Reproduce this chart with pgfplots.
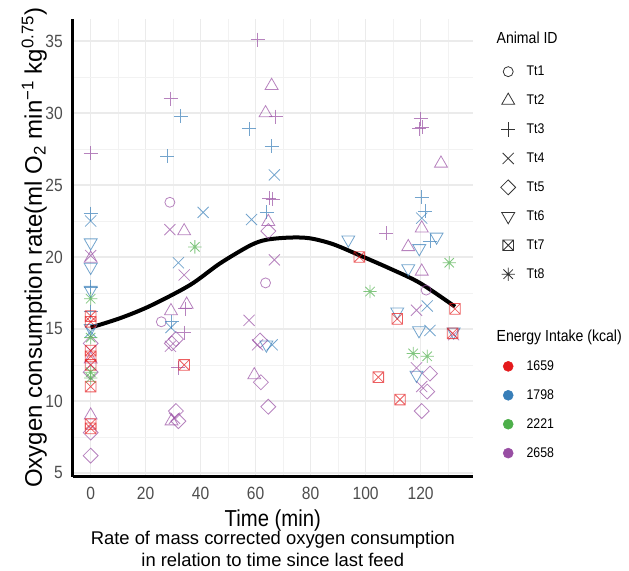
\documentclass[border=0pt]{standalone}
\usepackage{fontspec}
\setmainfont{Liberation Sans}
\newfontfamily\cnd{Liberation Sans}[FakeStretch=0.88]
\usepackage{pgfplots}
\pgfplotsset{compat=1.18}

\definecolor{cR}{HTML}{E41A1C}
\definecolor{cB}{HTML}{377EB8}
\definecolor{cG}{HTML}{4DAF4A}
\definecolor{cP}{HTML}{984EA3}
\definecolor{gridmaj}{HTML}{EBEBEB}
\definecolor{gridmin}{HTML}{F2F2F2}
\definecolor{tickgray}{HTML}{4D4D4D}

% ggplot-like marks: boxed cross, 8-arm asterisk, square diamond, down triangle
\pgfdeclareplotmark{boxx}{%
  \pgfpathrectangle{\pgfqpoint{-\pgfplotmarksize}{-\pgfplotmarksize}}{\pgfqpoint{2\pgfplotmarksize}{2\pgfplotmarksize}}%
  \pgfpathmoveto{\pgfqpoint{-\pgfplotmarksize}{-\pgfplotmarksize}}\pgfpathlineto{\pgfqpoint{\pgfplotmarksize}{\pgfplotmarksize}}%
  \pgfpathmoveto{\pgfqpoint{-\pgfplotmarksize}{\pgfplotmarksize}}\pgfpathlineto{\pgfqpoint{\pgfplotmarksize}{-\pgfplotmarksize}}%
  \pgfusepathqstroke}
\pgfdeclareplotmark{ast8}{%
  \pgfpathmoveto{\pgfqpoint{-\pgfplotmarksize}{0pt}}\pgfpathlineto{\pgfqpoint{\pgfplotmarksize}{0pt}}%
  \pgfpathmoveto{\pgfqpoint{0pt}{-\pgfplotmarksize}}\pgfpathlineto{\pgfqpoint{0pt}{\pgfplotmarksize}}%
  \pgfpathmoveto{\pgfqpoint{-.7071\pgfplotmarksize}{-.7071\pgfplotmarksize}}\pgfpathlineto{\pgfqpoint{.7071\pgfplotmarksize}{.7071\pgfplotmarksize}}%
  \pgfpathmoveto{\pgfqpoint{-.7071\pgfplotmarksize}{.7071\pgfplotmarksize}}\pgfpathlineto{\pgfqpoint{.7071\pgfplotmarksize}{-.7071\pgfplotmarksize}}%
  \pgfusepathqstroke}
\pgfdeclareplotmark{dmd}{%
  \pgfpathmoveto{\pgfqpoint{0pt}{\pgfplotmarksize}}\pgfpathlineto{\pgfqpoint{\pgfplotmarksize}{0pt}}%
  \pgfpathlineto{\pgfqpoint{0pt}{-\pgfplotmarksize}}\pgfpathlineto{\pgfqpoint{-\pgfplotmarksize}{0pt}}%
  \pgfpathclose\pgfusepathqstroke}
\pgfdeclareplotmark{tridown}{%
  \pgfpathmoveto{\pgfqpoint{0pt}{-\pgfplotmarksize}}\pgfpathlineto{\pgfqpoint{-.866\pgfplotmarksize}{.5\pgfplotmarksize}}%
  \pgfpathlineto{\pgfqpoint{.866\pgfplotmarksize}{.5\pgfplotmarksize}}%
  \pgfpathclose\pgfusepathqstroke}

\pgfplotsset{
  pt/.style={only marks, forget plot, mark options={solid, line width=0.6pt, draw opacity=0.7, fill=none}},
  lg/.style={only marks, black!80, mark options={solid, line width=0.6pt, fill=none}},
}

\begin{document}
\begin{tikzpicture}
\begin{axis}[
  name=ax,
  scale only axis, width=300.5pt, height=343.4pt,
  xmin=-6.6, xmax=139.1, ymin=4.75, ymax=36.55,
  axis x line=bottom, axis y line=left,
  axis line style={-, black, line width=2.2pt},
  xtick={0,20,...,120}, ytick={5,10,...,35},
  minor xtick={10,30,...,130}, minor ytick={7.5,12.5,...,32.5},
  major tick length=0pt, minor tick length=0pt,
  grid=both,
  major grid style={color=gridmaj, line width=1.1pt},
  minor grid style={color=gridmin, line width=0.6pt},
  /pgf/number format/assume math mode=true,
  tick label style={font=\cnd\fontsize{13.3}{15}\selectfont, text=tickgray, inner sep=0pt},
  xticklabel style={anchor=north, yshift=-7.5pt},
  yticklabel style={anchor=east, xshift=-7.1pt},
  xlabel={Time (min)},
  xlabel style={at={(axis description cs:0.5,-0.0728)}, anchor=north, inner sep=0pt,
                font=\cnd\fontsize{17.3}{19}\selectfont},
  ylabel={Oxygen consumption rate(ml O\textsubscript{2} min\textsuperscript{−1} kg\textsuperscript{0.75})},
  ylabel style={at={(axis description cs:-0.0636,0.5)}, anchor=south, inner sep=0pt,
                font=\fontsize{18}{20}\selectfont},
  legend image code/.code={\path[draw=none, fill=none] (0pt,-10.85pt) rectangle (14pt,10.85pt);
                           \draw[#1] plot coordinates {(7pt,0pt)};},
  legend cell align=left,
  legend style={at={(1,1)}, anchor=north west, xshift=19.3pt, yshift=-4.7pt,
                draw=none, fill=none, inner sep=0pt, outer sep=0pt,
                row sep=0pt, column sep=4.8pt,
                nodes={inner xsep=2pt, inner ysep=0pt, font=\cnd\fontsize{10.5}{12}\selectfont}},
]
% Tt1 circle
\addplot[pt, color=cP, mark=o, mark size=3.75pt] coordinates {
(28.8,23.8) (25.7,15.5) (63.6,18.2) (122.0,17.7)};
% Tt2 triangle
\addplot[pt, color=cP, mark=triangle, mark size=5.6pt] coordinates {
(0,19.9) (0,12.9) (0,9.0) (34.0,21.8) (29.2,16.25) (34.9,16.7) (29.4,8.6)
(65.8,31.9) (63.6,30.0) (64.6,22.45) (59.5,11.8) (127.4,26.5) (120.4,22.0)
(115.5,20.7) (120.4,19.0)};
% Tt3 plus
\addplot[pt, color=cB, mark=+, mark size=5.3pt] coordinates {
(0,23.0) (0,17.9) (0,16.2) (27.9,27.0) (32.8,29.8) (29.5,15.5) (57.6,28.9)
(65.8,27.7) (64.0,23.1) (120.4,24.15) (121.6,23.2) (123.4,21.1)};
\addplot[pt, color=cP, mark=+, mark size=5.3pt] coordinates {
(0,27.2) (29.1,31.0) (34.3,16.4) (34.0,14.75) (31.9,12.3) (60.7,35.1) (67.3,29.75)
(65.0,24.1) (66.2,24.0) (107.5,21.65) (120.0,29.6) (120.5,29.0) (119.5,28.9)};
% Tt4 cross
\addplot[pt, color=cB, mark=x, mark size=5.9pt] coordinates {
(0,22.5) (0,14.8) (40.9,23.1) (31.9,19.6) (29.2,15.1) (66.8,25.7) (58.5,22.6)
(66.0,13.9) (120.4,22.7) (122.4,16.6) (123.4,14.9)};
\addplot[pt, color=cP, mark=x, mark size=5.9pt] coordinates {
(0,20.1) (28.8,21.9) (34.0,18.75) (29.0,13.8) (30.5,8.8) (66.8,19.8) (57.6,15.6)
(60.7,13.9) (118.5,16.3) (118.5,12.3) (120.4,11.0) (132.0,14.6)};
% Tt5 diamond
\addplot[pt, color=cP, mark=dmd, mark size=5.6pt] coordinates {
(0,14.0) (0,12.0) (0,7.8) (0,6.2) (29.5,14.0) (31.0,14.3) (31.0,9.3) (31.9,8.6)
(64.6,21.8) (61.6,14.2) (61.9,11.3) (64.6,9.6) (123.4,11.9) (122.4,10.65) (120.4,9.3)};
% Tt6 down triangle
\addplot[pt, color=cB, mark=tridown, mark size=5.6pt] coordinates {
(0,21.0) (0,19.3) (0,17.7) (0,15.05) (63.9,13.9) (93.7,21.2) (125.8,21.4) (119.5,20.6)
(115.5,19.2) (111.5,16.2) (119.4,14.9) (132.0,14.8) (118.5,11.8)};
% Tt7 boxed cross
\addplot[pt, color=cR, mark=boxx, mark size=4pt] coordinates {
(0,15.9) (0,15.5) (0,13.5) (0,13.1) (0,12.5) (0,11.0) (0,8.4) (0,8.1) (34.0,12.5)
(97.7,20.0) (132.5,16.4) (111.5,15.7) (131.6,14.7) (104.6,11.65) (112.5,10.1)};
% Tt8 asterisk
\addplot[pt, color=cG, mark=ast8, mark size=5pt] coordinates {
(0,17.1) (0,14.4) (0,12.0) (0,11.6) (37.9,20.7) (101.6,17.6) (130.4,19.6)
(117.3,13.3) (122.4,13.1)};
% loess fit
\addplot[forget plot, black, line width=3pt, smooth, no marks] coordinates {
(0,15.1) (10.7,15.75) (21.6,16.6) (36.1,18.05) (47,19.55) (58,20.8) (64,21.2)
(72.5,21.35) (79.7,21.3) (88,20.9) (98,20.1) (108.8,19.2) (119.7,18.2) (132.5,16.55)};

% legend: Animal ID
\addlegendimage{legend image code/.code={\path[draw=none, fill=none] (0pt,-14.15pt) rectangle (14pt,10pt);}}
\addlegendentry{\hspace*{-22.5pt}\fontsize{12}{14}\selectfont Animal ID}
\addlegendimage{lg, mark=o, mark size=3.75pt}\addlegendentry{Tt1}
\addlegendimage{lg, mark=triangle, mark size=5.6pt}\addlegendentry{Tt2}
\addlegendimage{lg, mark=+, mark size=5.3pt}\addlegendentry{Tt3}
\addlegendimage{lg, mark=x, mark size=5.9pt}\addlegendentry{Tt4}
\addlegendimage{lg, mark=dmd, mark size=5.6pt}\addlegendentry{Tt5}
\addlegendimage{lg, mark=tridown, mark size=5.6pt}\addlegendentry{Tt6}
\addlegendimage{lg, mark=boxx, mark size=4pt}\addlegendentry{Tt7}
\addlegendimage{lg, mark=ast8, mark size=5pt}\addlegendentry{Tt8}
% legend: Energy intake
\addlegendimage{legend image code/.code={\path[draw=none, fill=none] (0pt,-11.45pt) rectangle (14pt,36pt);}}
\addlegendentry{\hspace*{-22.5pt}\fontsize{12}{14}\selectfont Energy Intake (kcal)}
\addlegendimage{only marks, mark=*, mark size=3.75pt, color=cR}\addlegendentry{1659}
\addlegendimage{only marks, mark=*, mark size=3.75pt, color=cB}\addlegendentry{1798}
\addlegendimage{only marks, mark=*, mark size=3.75pt, color=cG}\addlegendentry{2221}
\addlegendimage{only marks, mark=*, mark size=3.75pt, color=cP}\addlegendentry{2658}
\end{axis}
\node[anchor=base, font=\fontsize{13.8}{16}\selectfont] at ([yshift=-51pt]ax.south)
  {Rate of mass corrected oxygen consumption};
\node[anchor=base, font=\fontsize{13.8}{16}\selectfont] at ([yshift=-67.2pt]ax.south)
  {in relation to time since last feed};
\pgfresetboundingbox
\path[use as bounding box] ([shift={(-54.4pt,-70.8pt)}]ax.south west)
  rectangle ([shift={(417.4pt,357.45pt)}]ax.south west);
\end{tikzpicture}
\end{document}
